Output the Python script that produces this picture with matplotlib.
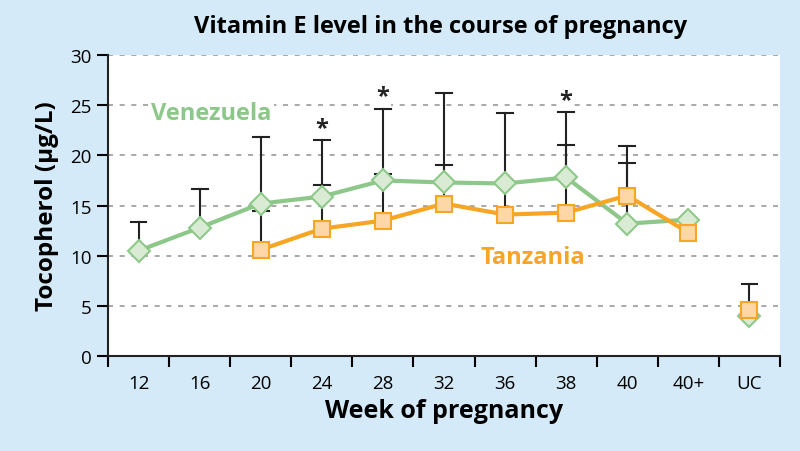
import numpy as np
import matplotlib
matplotlib.use("Agg")
from matplotlib import pyplot as plt

plt.rcParams['font.family'] = ['Open Sans', 'DejaVu Sans']

weeks = ["12", "16", "20", "24", "28", "32", "36", "38", "40", "40+", "UC"]

# mean tocopherol, NaN = no data
venezuela = [10.5, 12.8, 15.2, 15.9, 17.5, 17.3, 17.2, 17.8, 13.2, 13.6, 4.0]
tanzania = [np.nan, np.nan, 10.6, 12.7, 13.5, 15.2, 14.1, 14.3, 16.0, 12.3, 4.6]

# upper end of the error bars
venezuela_top = [13.4, 16.7, 21.8, 17.05, 18.1, 19.0, np.nan, 21.0, 19.2, np.nan, np.nan]
tanzania_top = [np.nan, np.nan, 14.5, 21.5, 24.6, 26.2, 24.2, 24.35, 20.9, np.nan, 7.2]

signif = ["24", "28", "38"]
signif_y = [22.7, 25.9, 25.5]

green = "#8dc88a"
green_face = "#d9ecd3"
orange = "#f6a525"
orange_face = "#fdd7a6"
bg = "#d4eaf8"

fig = plt.figure(figsize=(8, 4.52), dpi=100, facecolor=bg)
ax = fig.add_axes([0.135, 0.21, 0.84, 0.666])
ax.set_facecolor("white")

x = np.arange(len(weeks))

# error bars (upper only)
for tops, vals in [(venezuela_top, venezuela), (tanzania_top, tanzania)]:
    for xi, t, v in zip(x, tops, vals):
        if np.isnan(t):
            continue
        ax.plot([xi, xi], [v, t], color="#222222", lw=1.5, zorder=2)
        ax.plot([xi - 0.13, xi + 0.13], [t, t], color="#222222", lw=1.5, zorder=2)

# lines without the umbilical cord point
n = len(weeks) - 1
ax.plot(x[:n], venezuela[:n], color=green, lw=3, zorder=3)
ax.plot(x[:n], tanzania[:n], color=orange, lw=3, zorder=3)
ax.plot(x, venezuela, ls="none", marker="D", ms=11, mfc=green_face, mec=green, mew=1.5, zorder=4)
ax.plot(x, tanzania, ls="none", marker="s", ms=12, mfc=orange_face, mec=orange, mew=1.5, zorder=5)

# significance marks, white box only hides the grid
for w, sy in zip(signif, signif_y):
    ax.text(weeks.index(w), sy, "*", ha="center", va="center", fontsize=17, fontweight="bold",
            color="#222222", zorder=1.5,
            bbox=dict(facecolor="white", edgecolor="none", pad=1))

ax.text(0.2, 24.2, "Venezuela", color=green, fontsize=17, fontweight="bold", va="center",
        bbox=dict(facecolor="white", edgecolor="none", pad=2), zorder=6)
ax.text(6.45, 9.9, "Tanzania", color=orange, fontsize=17, fontweight="bold", va="center",
        ha="center", bbox=dict(facecolor="white", edgecolor="none", pad=2), zorder=6)

ax.set_xlim(-0.5, len(weeks) - 0.5)
ax.set_ylim(0, 30)
ax.set_yticks(range(0, 31, 5))
ax.yaxis.grid(True, ls=(0, (3, 4)), color="#999999", lw=1.2)
ax.set_axisbelow(True)

ax.set_xticks(np.arange(-0.5, len(weeks), 1.0))
ax.set_xticklabels([])
ax.set_xticks(x, minor=True)
ax.set_xticklabels(weeks, minor=True)
ax.tick_params(axis="x", which="major", length=8, width=1.5, direction="out")
ax.tick_params(axis="x", which="minor", length=0, pad=13, labelsize=13.5)
ax.tick_params(axis="y", length=8, width=1.5, labelsize=13.5, pad=4)

for s in ["top", "right"]:
    ax.spines[s].set_visible(False)
for s in ["left", "bottom"]:
    ax.spines[s].set_linewidth(1.5)
    ax.spines[s].set_color("#222222")

ax.set_xlabel("Week of pregnancy", fontsize=18, fontweight="bold", labelpad=4)
ax.set_ylabel("Tocopherol (µg/L)", fontsize=17.5, fontweight="bold", labelpad=8)
fig.text(0.551, 0.94, "Vitamin E level in the course of pregnancy", ha="center", va="center",
         fontsize=17, fontweight="bold")

fig.savefig("out.png", dpi=100, facecolor=bg)
